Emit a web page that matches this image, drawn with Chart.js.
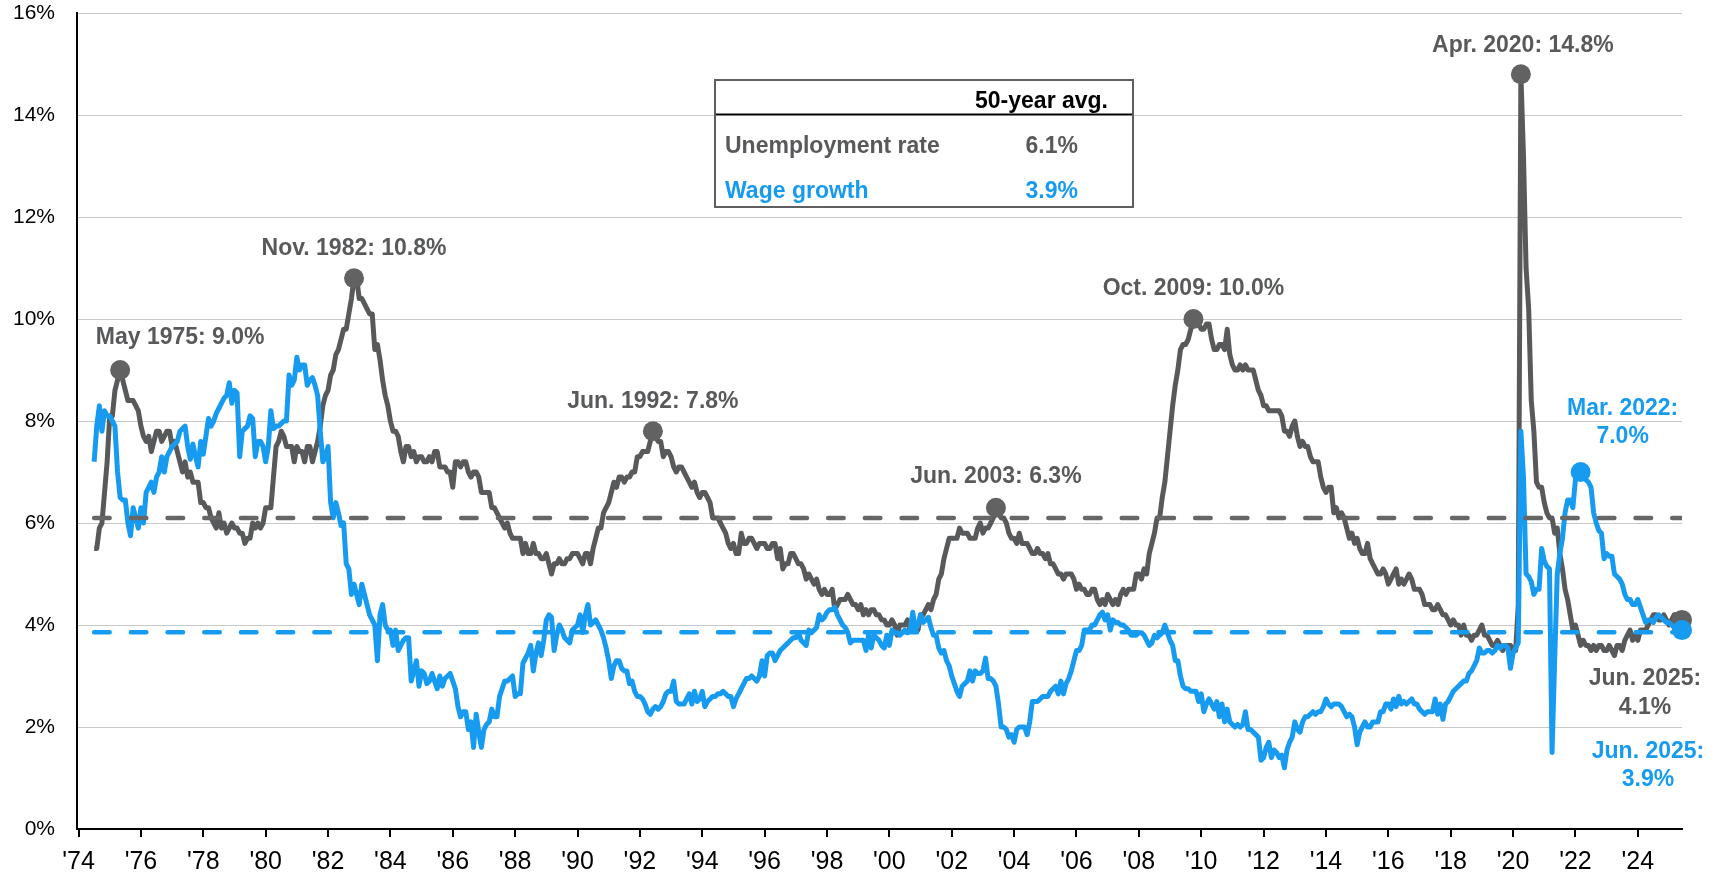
<!DOCTYPE html>
<html>
<head>
<meta charset="utf-8">
<script src="https://cdn.jsdelivr.net/npm/chart.js@4.4.1/dist/chart.umd.min.js"></script>
<style>
  html, body { margin: 0; padding: 0; background: #fff; }
  canvas { display: block; }
</style>
</head>
<body>
<canvas id="myChart" width="1718" height="877"></canvas>
<script>
// monthly series, first value = Jul 1974, last value = Jun 2025
const startYear = 1974;
const startMonth = 7;

const unemployment = [
  5.5, 5.5, 5.9, 6.0, 6.6, 7.2,
  8.1, 8.1, 8.6, 8.8, 9.0, 8.8, 8.6, 8.4, 8.4, 8.4, 8.3, 8.2,
  7.9, 7.7, 7.6, 7.7, 7.4, 7.6, 7.8, 7.8, 7.6, 7.7, 7.8, 7.8,
  7.5, 7.6, 7.4, 7.2, 7.0, 7.2, 6.9, 7.0, 6.8, 6.8, 6.8, 6.4,
  6.4, 6.3, 6.3, 6.1, 6.0, 5.9, 6.2, 5.9, 6.0, 5.8, 5.9, 6.0,
  5.9, 5.9, 5.8, 5.8, 5.6, 5.7, 5.7, 6.0, 5.9, 6.0, 5.9, 6.0,
  6.3, 6.3, 6.3, 6.9, 7.5, 7.6, 7.8, 7.7, 7.5, 7.5, 7.5, 7.2,
  7.5, 7.4, 7.4, 7.2, 7.5, 7.5, 7.2, 7.4, 7.6, 7.9, 8.3, 8.5,
  8.6, 8.9, 9.0, 9.3, 9.4, 9.6, 9.8, 9.8, 10.1, 10.4, 10.8, 10.8,
  10.4, 10.4, 10.3, 10.2, 10.1, 10.1, 9.4, 9.5, 9.2, 8.8, 8.5, 8.3,
  8.0, 7.8, 7.8, 7.7, 7.4, 7.2, 7.5, 7.5, 7.3, 7.4, 7.2, 7.3,
  7.3, 7.2, 7.2, 7.3, 7.2, 7.4, 7.4, 7.1, 7.1, 7.1, 7.0, 7.0,
  6.7, 7.2, 7.2, 7.1, 7.2, 7.2, 7.0, 6.9, 7.0, 7.0, 6.9, 6.6,
  6.6, 6.6, 6.6, 6.3, 6.3, 6.2, 6.1, 6.0, 5.9, 6.0, 5.8, 5.7,
  5.7, 5.7, 5.7, 5.4, 5.6, 5.4, 5.4, 5.6, 5.4, 5.4, 5.3, 5.3,
  5.4, 5.2, 5.0, 5.2, 5.2, 5.3, 5.2, 5.2, 5.3, 5.3, 5.4, 5.4,
  5.4, 5.3, 5.2, 5.4, 5.4, 5.2, 5.5, 5.7, 5.9, 5.9, 6.2, 6.3,
  6.4, 6.6, 6.8, 6.7, 6.9, 6.9, 6.8, 6.9, 6.9, 7.0, 7.0, 7.3,
  7.3, 7.4, 7.4, 7.4, 7.6, 7.8, 7.7, 7.6, 7.6, 7.3, 7.4, 7.4,
  7.3, 7.1, 7.0, 7.1, 7.1, 7.0, 6.9, 6.8, 6.7, 6.8, 6.6, 6.5,
  6.6, 6.6, 6.5, 6.4, 6.1, 6.1, 6.1, 6.0, 5.9, 5.8, 5.6, 5.5,
  5.6, 5.4, 5.4, 5.8, 5.6, 5.6, 5.7, 5.7, 5.6, 5.5, 5.6, 5.6,
  5.6, 5.5, 5.5, 5.6, 5.6, 5.3, 5.5, 5.1, 5.2, 5.2, 5.4, 5.4,
  5.3, 5.2, 5.2, 5.1, 4.9, 5.0, 4.9, 4.8, 4.9, 4.7, 4.6, 4.7,
  4.6, 4.6, 4.7, 4.3, 4.4, 4.5, 4.5, 4.5, 4.6, 4.5, 4.4, 4.4,
  4.3, 4.4, 4.2, 4.3, 4.2, 4.3, 4.3, 4.2, 4.2, 4.1, 4.1, 4.0,
  4.0, 4.1, 4.0, 3.8, 4.0, 4.0, 4.0, 4.1, 3.9, 3.9, 3.9, 3.9,
  4.2, 4.2, 4.3, 4.4, 4.3, 4.5, 4.6, 4.9, 5.0, 5.3, 5.5, 5.7,
  5.7, 5.7, 5.7, 5.9, 5.8, 5.8, 5.8, 5.7, 5.7, 5.7, 5.9, 6.0,
  5.8, 5.9, 5.9, 6.0, 6.1, 6.3, 6.2, 6.1, 6.1, 6.0, 5.8, 5.7,
  5.7, 5.6, 5.8, 5.6, 5.6, 5.6, 5.5, 5.4, 5.4, 5.5, 5.4, 5.4,
  5.3, 5.4, 5.2, 5.2, 5.1, 5.0, 5.0, 4.9, 5.0, 5.0, 5.0, 4.9,
  4.7, 4.8, 4.7, 4.7, 4.6, 4.6, 4.7, 4.7, 4.5, 4.4, 4.5, 4.4,
  4.6, 4.5, 4.4, 4.5, 4.4, 4.6, 4.7, 4.6, 4.7, 4.7, 4.7, 5.0,
  5.0, 4.9, 5.1, 5.0, 5.4, 5.6, 5.8, 6.1, 6.1, 6.5, 6.8, 7.3,
  7.8, 8.3, 8.7, 9.0, 9.4, 9.5, 9.5, 9.6, 9.8, 10.0, 9.9, 9.9,
  9.8, 9.8, 9.9, 9.9, 9.6, 9.4, 9.4, 9.5, 9.5, 9.4, 9.8, 9.3,
  9.1, 9.0, 9.0, 9.1, 9.0, 9.1, 9.0, 9.0, 9.0, 8.8, 8.6, 8.5,
  8.3, 8.3, 8.2, 8.2, 8.2, 8.2, 8.2, 8.1, 7.8, 7.8, 7.7, 7.9,
  8.0, 7.7, 7.5, 7.6, 7.5, 7.5, 7.3, 7.2, 7.2, 7.2, 6.9, 6.7,
  6.6, 6.7, 6.7, 6.2, 6.3, 6.1, 6.2, 6.1, 5.9, 5.7, 5.8, 5.6,
  5.7, 5.5, 5.4, 5.4, 5.6, 5.3, 5.2, 5.1, 5.0, 5.0, 5.1, 5.0,
  4.8, 4.9, 5.0, 5.1, 4.8, 4.9, 4.8, 4.9, 5.0, 4.9, 4.7, 4.7,
  4.7, 4.6, 4.4, 4.4, 4.4, 4.3, 4.3, 4.4, 4.3, 4.2, 4.2, 4.1,
  4.0, 4.1, 4.0, 4.0, 3.8, 4.0, 3.8, 3.8, 3.7, 3.8, 3.8, 3.9,
  4.0, 3.8, 3.8, 3.7, 3.6, 3.6, 3.7, 3.6, 3.5, 3.6, 3.6, 3.6,
  3.5, 3.5, 4.4, 14.8, 13.2, 11.0, 10.2, 8.4, 7.8, 6.8, 6.7, 6.7,
  6.4, 6.2, 6.1, 6.1, 5.8, 5.9, 5.4, 5.1, 4.7, 4.5, 4.2, 3.9,
  4.0, 3.8, 3.6, 3.7, 3.6, 3.6, 3.5, 3.6, 3.5, 3.6, 3.6, 3.5,
  3.5, 3.6, 3.5, 3.4, 3.6, 3.6, 3.5, 3.7, 3.8, 3.9, 3.7, 3.8,
  3.7, 3.9, 3.9, 3.9, 4.0, 4.1, 4.2, 4.2, 4.1, 4.1, 4.2, 4.1,
  4.0, 4.1, 4.2, 4.2, 4.2, 4.1
];

const wageGrowth = [
  7.2, 7.9, 8.3, 7.8, 8.2, 8.1,
  8.1, 8.0, 7.9, 7.0, 6.5, 6.45, 6.45, 6.0, 5.75, 6.3, 6.1, 5.9,
  6.3, 6.0, 6.6, 6.7, 6.8, 6.6, 6.9, 7.0, 7.3, 7.0, 7.3, 7.4,
  7.5, 7.55, 7.6, 7.8, 7.85, 7.9, 7.5, 7.25, 7.55, 7.3, 7.1, 7.6,
  7.35, 7.7, 8.05, 7.9, 8.0, 8.15, 8.25, 8.35, 8.45, 8.5, 8.75, 8.35,
  8.6, 8.55, 7.3, 7.8, 7.85, 7.9, 8.1, 8.05, 7.3, 7.6, 7.6, 7.5,
  7.2, 7.5, 8.2, 7.85, 7.9, 7.9, 7.95, 8.0, 8.0, 8.9, 8.7, 8.8,
  9.25, 9.0, 9.1, 9.1, 8.7, 8.8, 8.85, 8.7, 8.5, 7.8, 7.2, 7.3,
  7.5, 6.4, 6.1, 6.4, 6.2, 5.95, 6.0, 5.2, 5.1, 4.6, 4.8, 4.6,
  4.4, 4.8, 4.6, 4.4, 4.2, 4.1, 4.0, 3.3, 4.2, 4.4, 4.0, 3.9,
  3.9, 3.6, 3.9, 3.5, 3.6, 3.7, 3.75, 3.75, 2.9, 3.1, 3.3, 2.8,
  3.1, 3.05, 2.85, 2.9, 3.05, 2.9, 2.75, 3.0, 2.8, 2.95, 3.0, 3.05,
  2.9, 2.75, 2.4, 2.2, 2.3, 2.3, 1.95, 2.1, 1.6, 2.25, 1.9, 1.6,
  1.95, 2.05, 2.1, 2.35, 2.2, 2.2, 2.6, 2.75, 2.9, 2.9, 2.95, 3.0,
  2.6, 2.65, 2.65, 3.25, 3.35, 3.45, 3.6, 3.1, 3.45, 3.65, 3.4, 3.7,
  4.1, 4.2, 4.15, 3.5, 3.8, 4.0, 3.9, 3.75, 3.7, 3.65, 3.9, 3.95,
  4.0, 4.2, 3.85, 4.2, 4.4, 4.0, 4.05, 4.1, 4.0, 3.9, 3.75, 3.55,
  3.3, 2.95, 3.2, 3.3, 3.3, 3.15, 3.1, 3.1, 2.85, 2.9, 2.7, 2.6,
  2.6, 2.55, 2.45, 2.3, 2.25, 2.35, 2.4, 2.35, 2.4, 2.5, 2.65, 2.7,
  2.7, 2.9, 2.5, 2.45, 2.45, 2.45, 2.55, 2.65, 2.45, 2.7, 2.5, 2.55,
  2.7, 2.4, 2.5, 2.55, 2.6, 2.6, 2.65, 2.65, 2.7, 2.65, 2.6, 2.6,
  2.4, 2.55, 2.65, 2.75, 2.85, 2.95, 2.95, 3.0, 2.95, 2.9, 3.0, 3.3,
  3.0, 3.4, 3.45, 3.45, 3.3, 3.4, 3.5, 3.55, 3.6, 3.65, 3.7, 3.75,
  3.75, 3.85, 3.7, 3.65, 3.6, 3.9, 3.85, 3.9, 3.95, 4.2, 4.1, 4.15,
  4.25, 4.3, 4.3, 4.35, 4.2, 4.1, 4.0, 3.95, 3.85, 3.65, 3.7, 3.7,
  3.7, 3.7, 3.7, 3.5, 3.8, 3.55, 3.8, 3.75, 3.7, 3.6, 3.55, 3.8,
  3.6, 3.9, 3.85, 3.85, 3.8, 3.85, 3.9, 3.85, 3.9, 4.25, 3.9, 4.0,
  4.2, 4.05, 4.1, 4.15, 3.95, 3.8, 3.8, 3.55, 3.45, 3.5, 3.3, 3.2,
  3.0, 2.85, 2.7, 2.6, 2.8, 2.85, 2.9, 3.1, 2.9, 3.1, 3.05, 3.05,
  3.1, 3.35, 2.95, 2.95, 2.9, 2.8, 2.45, 2.0, 2.0, 1.95, 1.8, 1.85,
  1.7, 1.95, 2.0, 2.0, 2.0, 1.85, 2.1, 2.5, 2.5, 2.5, 2.55, 2.6,
  2.6, 2.6, 2.7, 2.75, 2.8, 2.65, 2.9, 2.65, 2.85, 2.95, 3.1, 3.3,
  3.5, 3.5, 3.6, 3.9, 3.9, 3.9, 4.0, 4.0, 4.1, 4.2, 4.25, 4.1,
  4.2, 3.9, 4.1, 4.05, 4.05, 4.0, 4.0, 3.95, 3.9, 3.8, 3.8, 3.8,
  3.85, 3.85, 3.8, 3.7, 3.6, 3.65, 3.8, 3.75, 3.8, 3.85, 4.0, 3.85,
  3.7, 3.6, 3.3, 3.3, 3.0, 2.8, 2.75, 2.75, 2.7, 2.7, 2.7, 2.5,
  2.65, 2.3, 2.45, 2.55, 2.45, 2.35, 2.5, 2.2, 2.45, 2.1, 2.35, 2.1,
  2.05, 2.0, 2.05, 2.0, 2.05, 2.3, 1.95, 1.95, 1.9, 1.85, 1.8, 1.35,
  1.4, 1.6, 1.7, 1.4, 1.55, 1.5, 1.4, 1.45, 1.2, 1.55, 1.7, 1.8,
  2.1, 1.95, 1.9, 2.1, 2.2, 2.2, 2.25, 2.3, 2.25, 2.3, 2.3, 2.4,
  2.55, 2.45, 2.4, 2.45, 2.45, 2.45, 2.4, 2.3, 2.2, 2.25, 2.2, 2.0,
  1.65, 1.9, 2.0, 2.1, 2.0, 2.0, 2.1, 2.1, 2.1, 2.3, 2.3, 2.45,
  2.45, 2.35, 2.55, 2.4, 2.6, 2.45, 2.5, 2.45, 2.5, 2.55, 2.45, 2.45,
  2.35, 2.3, 2.25, 2.3, 2.3, 2.3, 2.55, 2.25, 2.45, 2.15, 2.45, 2.5,
  2.6, 2.7, 2.75, 2.8, 2.85, 2.9, 2.9, 3.05, 3.1, 3.2, 3.3, 3.55,
  3.45, 3.45, 3.5, 3.5, 3.45, 3.5, 3.6, 3.55, 3.6, 3.6, 3.55, 3.15,
  3.45, 3.55, 3.65, 7.8, 6.9, 5.0, 4.95, 4.85, 4.6, 4.7, 4.7, 5.5,
  5.25, 5.15, 5.1, 1.5, 3.3, 5.0, 5.4, 5.7, 6.2, 6.45, 6.45, 6.3,
  6.85, 6.9, 7.0, 6.9, 6.85, 6.8, 6.7, 6.2, 6.0, 5.85, 5.8, 5.3,
  5.4, 5.35, 5.35, 5.0, 4.95, 4.9, 4.8, 4.6, 4.5, 4.5, 4.4, 4.4,
  4.5, 4.35, 4.2, 4.05, 4.1, 4.1, 4.05, 4.15, 4.2, 4.15, 4.1, 4.05,
  4.05, 4.0, 3.95, 3.95, 3.95, 3.9
];

// 50-year averages (the wage dashed line sits just under the rounded 3.9%)
const unemploymentAvg = 6.1;
const wageAvg = 3.86;
const tableHeader = "50-year avg.";
const tableRows = [
  ["Unemployment rate", "6.1%"],
  ["Wage growth", "3.9%"]
];

const xTickYears = [1974, 1976, 1978, 1980, 1982, 1984, 1986, 1988, 1990, 1992, 1994, 1996, 1998,
  2000, 2002, 2004, 2006, 2008, 2010, 2012, 2014, 2016, 2018, 2020, 2022, 2024];
const xTickLabels = ["'74", "'76", "'78", "'80", "'82", "'84", "'86", "'88", "'90", "'92", "'94", "'96", "'98",
  "'00", "'02", "'04", "'06", "'08", "'10", "'12", "'14", "'16", "'18", "'20", "'22", "'24"];
const yTicks = [0, 2, 4, 6, 8, 10, 12, 14, 16];

// points that get a dot and a label
const unemploymentMarks = [
  ["1975-05", "May 1975"], ["1982-11", "Nov. 1982"], ["1992-06", "Jun. 1992"], ["2003-06", "Jun. 2003"],
  ["2009-10", "Oct. 2009"], ["2020-04", "Apr. 2020"], ["2025-06", "Jun. 2025"]
];
const wageMarks = [["2022-03", "Mar. 2022"], ["2025-06", "Jun. 2025"]];

const GRAY = "#58595b";
const GRAY_DOT = "#626262";
const BLUE = "#179bf0";
const FONT = "'Liberation Sans', Arial, Helvetica, sans-serif";

function monthIndex(d) {
  const [y, m] = d.split("-").map(Number);
  return (y - startYear) * 12 + (m - startMonth);
}
function xOf(i) {
  return startYear + (startMonth - 1 + i) / 12;
}
function toPoints(arr) {
  return arr.map((v, i) => ({ x: xOf(i), y: v }));
}

const uMarkIdx = new Set(unemploymentMarks.map(m => monthIndex(m[0])));
const wMarkIdx = new Set(wageMarks.map(m => monthIndex(m[0])));
const firstX = xOf(0);
const lastX = xOf(unemployment.length - 1);

// label placement relative to the dot, in pixels
const labelPlace = {
  "0:1975-05": { dx: 60, dy: [-32] },
  "0:1982-11": { dx: 0, dy: [-30] },
  "0:1992-06": { dx: 0, dy: [-30] },
  "0:2003-06": { dx: 0, dy: [-31] },
  "0:2009-10": { dx: 0, dy: [-30] },
  "0:2020-04": { dx: 2, dy: [-29] },
  "0:2025-06": { dx: -37, dy: [59, 88] },
  "1:2022-03": { dx: 42, dy: [-63, -35] },
  "1:2025-06": { dx: -34, dy: [122, 150] }
};

const callouts = {
  id: "callouts",
  afterDatasetsDraw(chart) {
    const c = chart.ctx;
    c.save();
    c.font = "bold 23px " + FONT;
    c.textAlign = "center";
    c.textBaseline = "middle";
    [[0, unemploymentMarks, unemployment, GRAY], [1, wageMarks, wageGrowth, BLUE]].forEach(([ds, marks, values, color]) => {
      const meta = chart.getDatasetMeta(ds);
      marks.forEach(([date, name]) => {
        const i = monthIndex(date);
        const pt = meta.data[i];
        const place = labelPlace[ds + ":" + date];
        const val = values[i].toFixed(1) + "%";
        const lines = place.dy.length > 1 ? [name + ":", val] : [name + ": " + val];
        c.fillStyle = color;
        lines.forEach((t, k) => c.fillText(t, pt.x + place.dx, pt.y + place.dy[k]));
      });
    });
    c.restore();
  }
};

const avgTable = {
  id: "avgTable",
  afterDraw(chart) {
    const c = chart.ctx;
    c.save();
    c.fillStyle = "#fff";
    c.fillRect(715, 80, 418, 127);
    c.lineWidth = 2;
    c.strokeStyle = "#5f5f5f";
    c.strokeRect(715, 80, 418, 127);
    c.strokeStyle = "#000";
    c.beginPath();
    c.moveTo(716, 114.5);
    c.lineTo(1132, 114.5);
    c.stroke();
    c.font = "bold 23px " + FONT;
    c.textBaseline = "alphabetic";
    c.fillStyle = "#000";
    c.textAlign = "right";
    c.fillText(tableHeader, 1108, 108);
    const colors = [GRAY, BLUE];
    tableRows.forEach((row, k) => {
      const y = 153 + k * 45;
      c.fillStyle = colors[k];
      c.textAlign = "left";
      c.fillText(row[0], 725, y);
      c.textAlign = "right";
      c.fillText(row[1], 1078, y);
    });
    c.restore();
  }
};

Chart.defaults.font.family = FONT;

new Chart(document.getElementById("myChart"), {
  type: "line",
  data: {
    datasets: [
      {
        label: "Unemployment rate",
        data: toPoints(unemployment),
        borderColor: GRAY,
        borderWidth: 5,
        borderJoinStyle: "round",
        pointRadius: (ctx) => (uMarkIdx.has(ctx.dataIndex) ? 10 : 0),
        pointBackgroundColor: GRAY_DOT,
        pointBorderWidth: 0,
        pointHoverRadius: 0,
        clip: false,
        order: 2
      },
      {
        label: "Wage growth",
        data: toPoints(wageGrowth),
        borderColor: BLUE,
        borderWidth: 5,
        borderJoinStyle: "round",
        pointRadius: (ctx) => (wMarkIdx.has(ctx.dataIndex) ? 10 : 0),
        pointBackgroundColor: BLUE,
        pointBorderWidth: 0,
        pointHoverRadius: 0,
        clip: false,
        order: 1
      },
      {
        label: "Unemployment avg",
        data: [{ x: firstX, y: unemploymentAvg }, { x: lastX, y: unemploymentAvg }],
        borderColor: "#666666",
        borderWidth: 4.5,
        borderDash: [15.5, 21.2],
        borderCapStyle: "round",
        pointRadius: 0,
        order: 0
      },
      {
        label: "Wage avg",
        data: [{ x: firstX, y: wageAvg }, { x: lastX, y: wageAvg }],
        borderColor: BLUE,
        borderWidth: 4.5,
        borderDash: [15.5, 21.2],
        borderCapStyle: "round",
        pointRadius: 0,
        order: 0
      }
    ]
  },
  options: {
    responsive: false,
    animation: false,
    devicePixelRatio: 1,
    layout: { padding: { left: 0, right: 36, top: 13, bottom: 0 } },
    plugins: { legend: { display: false }, tooltip: { enabled: false } },
    scales: {
      x: {
        type: "linear",
        min: 1973.95,
        max: lastX,
        afterBuildTicks: (s) => { s.ticks = xTickYears.map(v => ({ value: v })); },
        afterFit: (s) => { s.height = 48; },
        grid: { drawOnChartArea: false, drawTicks: true, tickLength: 8, color: "#000", lineWidth: 2 },
        border: { display: true, color: "#000", width: 2 },
        ticks: {
          callback: (v, i) => xTickLabels[i],
          color: "#000",
          font: { size: 25 },
          padding: 10,
          maxRotation: 0,
          autoSkip: false
        }
      },
      y: {
        min: 0,
        max: 16,
        afterBuildTicks: (s) => { s.ticks = yTicks.map(v => ({ value: v })); },
        afterFit: (s) => { s.width = 77; },
        grid: { color: "#c9c9c9", lineWidth: 1, drawTicks: true, tickLength: 22, tickColor: "rgba(0,0,0,0)" },
        border: { display: true, color: "#000", width: 2 },
        ticks: {
          callback: (v) => v + "%",
          color: "#000",
          font: { size: 21 },
          padding: 0
        }
      }
    }
  },
  plugins: [callouts, avgTable]
});
</script>
</body>
</html>
